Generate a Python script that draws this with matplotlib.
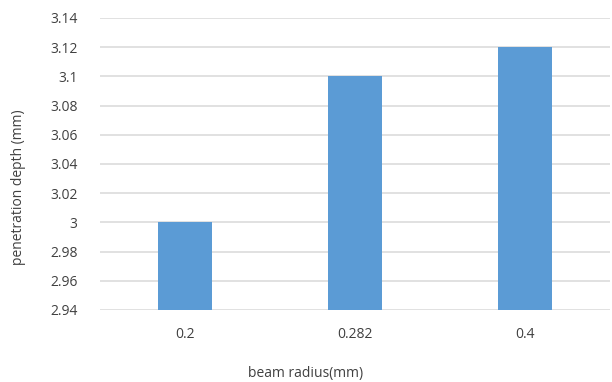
import matplotlib.pyplot as plt
import numpy as np

plt.rcParams['font.family'] = ['Open Sans', 'DejaVu Sans']

# beam radius vs penetration depth
radius = ['0.2', '0.282', '0.4']
depth = [3.00, 3.10, 3.12]
yticks = [2.94, 2.96, 2.98, 3.00, 3.02, 3.04, 3.06, 3.08, 3.10, 3.12, 3.14]
ytick_labels = ['2.94', '2.96', '2.98', '3', '3.02', '3.04', '3.06', '3.08', '3.1', '3.12', '3.14']

text_col = '#404040'
grid_col = '#D9D9D9'

fig = plt.figure(figsize=(6.12, 3.82), dpi=100)
ax = fig.add_axes([0.163, 0.1885, 0.834, 0.7645])

x = np.arange(len(radius))
ax.bar(x, [d - yticks[0] for d in depth], bottom=yticks[0], width=0.32,
       color='#5B9BD5', zorder=3)

ax.set_xlim(-0.5, len(radius) - 0.5)
ax.set_ylim(yticks[0], yticks[-1])
ax.set_yticks(yticks)
ax.set_yticklabels(ytick_labels)
ax.set_xticks(x)
ax.set_xticklabels(radius)
ax.tick_params(length=0, colors=text_col, labelsize=10)
ax.tick_params(axis='y', pad=16)
ax.tick_params(axis='x', pad=12)

ax.grid(axis='y', color=grid_col, linewidth=1.1, zorder=0)
for s in ax.spines.values():
    s.set_visible(False)

fig.text(0.030, 0.51, 'penetration depth (mm)', color=text_col, fontsize=10,
         rotation=90, ha='center', va='center')
fig.text(0.5, 0.022, 'beam radius(mm)', color=text_col, fontsize=10, ha='center', va='center')

fig.savefig('out.png', dpi=100)
